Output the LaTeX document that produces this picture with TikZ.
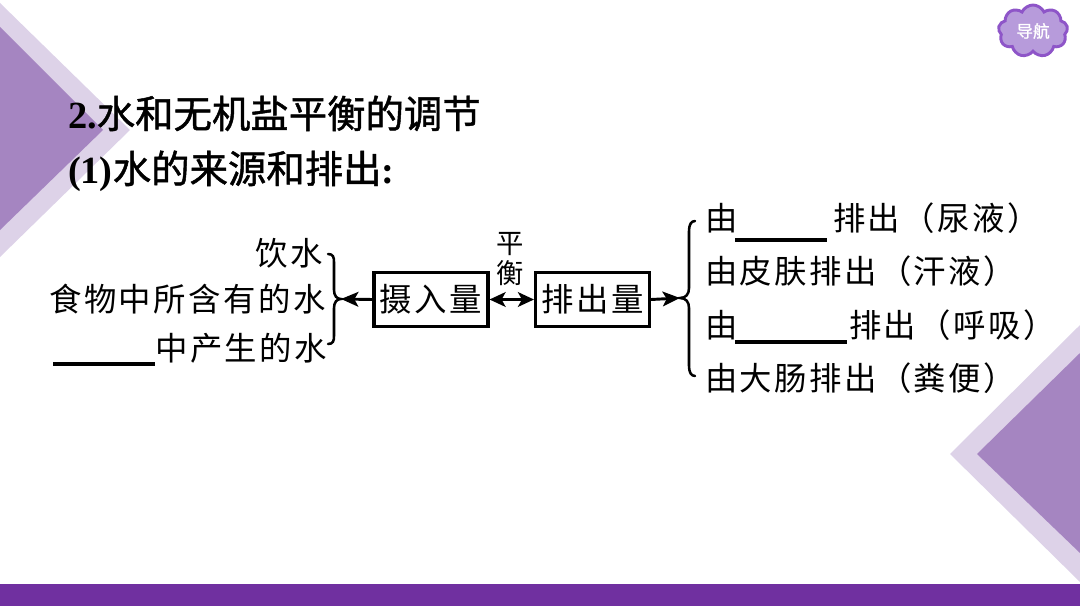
\documentclass[tikz,border=0pt]{standalone}
\usepackage{fontspec}
\usetikzlibrary{arrows.meta,shapes.symbols}
\setmainfont{Liberation Serif}
\newfontfamily\cjk{Noto Sans CJK SC}
\newfontfamily\cjkt[FakeBold=1.2]{Noto Sans CJK SC}
\newfontfamily\cjkls[LetterSpace=7.5]{Noto Sans CJK SC}
\definecolor{lightp}{HTML}{DDD2E8}
\definecolor{darkp}{HTML}{A585C1}
\definecolor{barp}{HTML}{7030A0}
\definecolor{cloudfill}{HTML}{B79BDB}
\definecolor{cloudline}{HTML}{8E55C8}
\tikzset{
  x=0.75pt,y=-0.75pt,
  lbl/.style={inner sep=0pt,outer sep=0pt,font=\fontsize{24.3pt}{28pt}\selectfont\cjkls},
  ttl/.style={inner sep=0pt,outer sep=0pt,anchor=base west,font=\fontsize{28.8pt}{34pt}\selectfont\bfseries},
  qbox/.style={draw=black,line width=2.3pt,inner sep=0pt,minimum width=85.5pt,minimum height=40.5pt,font=\fontsize{24.3pt}{28pt}\selectfont\cjkls},
  blank/.style={line width=2.3pt,black},
  brc/.style={line width=1.9pt,black,line cap=round},
  conn/.style={line width=2.2pt,black},
  tipa/.style={-{Stealth[length=13pt,width=11pt,inset=3pt]}},
  tipb/.style={{Stealth[length=12pt,width=11pt,inset=3pt]}-{Stealth[length=12pt,width=11pt,inset=3pt]}},
}
\begin{document}
\begin{tikzpicture}
\useasboundingbox (0,0) rectangle (1080,606);
% decoration
\fill[lightp] (0,3) -- (130,130) -- (0,257) -- cycle;
\fill[darkp] (0,27) -- (103,130) -- (0,230) -- cycle;
\fill[lightp] (1080,325) -- (950,454) -- (1080,582) -- cycle;
\fill[darkp] (1080,353) -- (977,454) -- (1080,553) -- cycle;
\fill[barp] (0,584) rectangle (1080,606);
% cloud
\node[cloud,cloud puffs=9,cloud puff arc=130,aspect=1.35,draw=cloudline,fill=cloudfill,line width=2.2pt,inner sep=0pt,minimum width=52pt,minimum height=39pt,text=white,font=\fontsize{12.5pt}{14pt}\selectfont\cjkt] (nav) at (1033,31) {导航};
% title
\node[ttl] (t1) at (68,128) {2.{\mdseries\cjkt 水和无机盐平衡的调节}};
\node[ttl] (t2) at (68,183) {(1){\mdseries\cjkt 水的来源和排出}:};
% boxes
\node[qbox] (in) at (431,299.5) {摄入量};
\node[qbox] (out) at (592.5,299.5) {排出量};
\node[inner sep=0pt,font=\fontsize{20.5pt}{23pt}\selectfont\cjk,align=center] (bal) at (510,259) {平\\衡};
% left labels
\node[lbl,anchor=base east] (a1) at (323,265) {饮水};
\node[lbl,anchor=base east] (a2) at (325.5,311) {食物中所含有的水};
\node[lbl,anchor=base east] (a3) at (327,360) {中产生的水};
\coordinate (a3l) at (53,364);
\coordinate (a3r) at (155,364);
\draw[blank] (a3l) -- (a3r);
% right labels
\node[lbl,anchor=base west] (b1a) at (705,230) {由};
\node[lbl,anchor=base west] (b1b) at (833,230) {排出（尿液）};
\node[lbl,anchor=base west] (b2) at (705,283) {由皮肤排出（汗液）};
\node[lbl,anchor=base west] (b3a) at (705,337) {由};
\node[lbl,anchor=base west] (b3b) at (849,337) {排出（呼吸）};
\node[lbl,anchor=base west] (b4) at (705,390) {由大肠排出（粪便）};
\coordinate (u1l) at (735,240); \coordinate (u1r) at (827,240);
\coordinate (u3l) at (735,342); \coordinate (u3r) at (847,342);
\draw[blank] (u1l) -- (u1r);
\draw[blank] (u3l) -- (u3r);
% braces
\coordinate (ltip) at (341,299);
\coordinate (rtip) at (680,298);
\draw[brc] (328,254) .. controls (333,254) and (334,257) .. (334,262) -- (334,290) .. controls (334,296) and (337,299) .. (ltip) .. controls (337,299) and (334,302) .. (334,308) -- (334,336) .. controls (334,341) and (333,344) .. (328,344);
\draw[brc] (695,221) .. controls (691,221) and (689,225) .. (689,231) -- (689,288) .. controls (689,294) and (686,298) .. (rtip) .. controls (686,298) and (689,302) .. (689,308) -- (689,366) .. controls (689,372) and (691,376) .. (695,376);
% connectors
\draw[conn,tipa] (in.west) -- (ltip);
\draw[conn,tipb] (in.east) -- (out.west);
\draw[conn,tipa] (out.east) -- (rtip);
\end{tikzpicture}
\end{document}
